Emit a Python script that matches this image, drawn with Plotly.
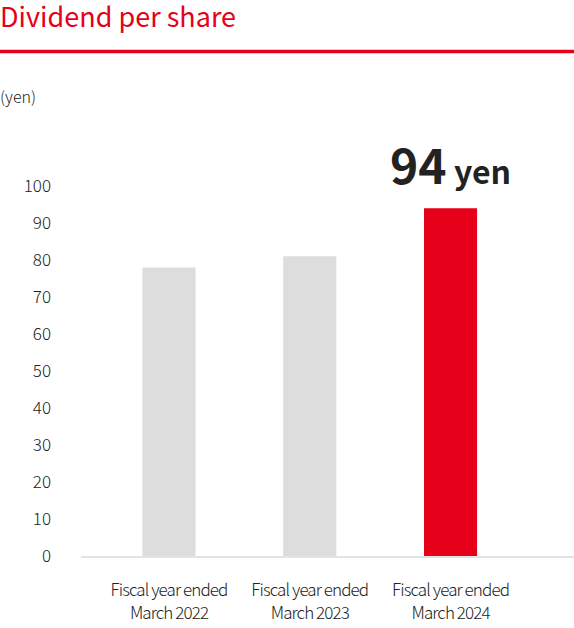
import plotly.graph_objects as go

categories = ["Fiscal year ended<br>March 2022", "Fiscal year ended<br>March 2023", "Fiscal year ended<br>March 2024"]
values = [78, 81, 94]
bar_colors = ["#dddddd", "#dddddd", "#e60019"]
y_ticks = [0, 10, 20, 30, 40, 50, 60, 70, 80, 90, 100]

FONT = "Noto Sans CJK JP"
W, H = 574, 628
L, R, T, B = 81, 0, 186, 72
pw = W - L - R
ph = H - T - B

def px_x(p):
    return (p - L) / pw

def px_y(p):
    return (H - B - p) / ph

tick_text = ["<span style='letter-spacing:-0.9px'>" + c.replace("<br>", "</span><br><span style='letter-spacing:-0.9px'>") + "</span>" for c in categories]

fig = go.Figure()
fig.add_trace(go.Bar(
    x=list(range(len(categories))), y=values,
    marker=dict(color=bar_colors, line=dict(width=0)),
    width=0.377, hoverinfo="skip",
))

fig.add_annotation(
    x=2, y=values[2], xref="x", yref="y",
    text="<b>94</b><span style='font-size:32px'><b> yen</b></span>",
    showarrow=False, yanchor="bottom", xanchor="center", yshift=8,
    font=dict(family=FONT, size=48, color="#222222"),
)
fig.add_annotation(
    x=px_x(-2), y=px_y(96), xref="paper", yref="paper",
    text="(yen)", showarrow=False, xanchor="left", yanchor="middle",
    font=dict(family=FONT, size=16, color="#222222", weight=300),
)
fig.add_shape(type="line", xref="paper", yref="paper",
              x0=px_x(0), x1=1, y0=px_y(51.5), y1=px_y(51.5),
              line=dict(color="#e60019", width=3.5))

fig.update_layout(
    width=W, height=H,
    margin=dict(l=L, r=R, t=T, b=B),
    paper_bgcolor="white", plot_bgcolor="white",
    showlegend=False,
    title=dict(text="Dividend per share", x=0, xref="container", xanchor="left",
               y=1 - 18 / H, yref="container", yanchor="middle",
               font=dict(family=FONT, size=27, color="#e60019")),
    xaxis=dict(
        tickmode="array", tickvals=list(range(len(categories))), ticktext=tick_text,
        range=[-0.625, 2.877], showgrid=False, zeroline=False,
        showline=True, linecolor="#e3e3e3", linewidth=2,
        ticks="", ticklabelstandoff=18,
        tickfont=dict(family=FONT, size=17, color="#222222", weight=300),
    ),
    yaxis=dict(
        range=[0, 100], tickmode="array", tickvals=y_ticks,
        showgrid=False, zeroline=False, showline=False, ticks="",
        ticklabelstandoff=29,
        tickfont=dict(family=FONT, size=17, color="#222222", weight=300),
    ),
)

fig.write_html("out.html", config={"displayModeBar": False},
               post_script="document.body.style.margin='0';")
